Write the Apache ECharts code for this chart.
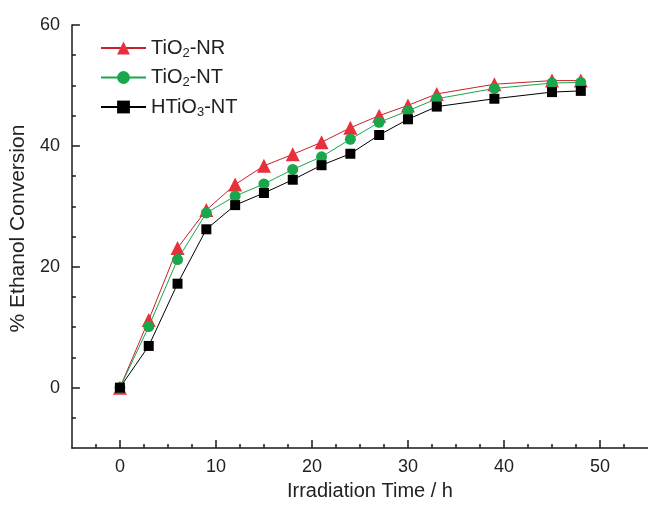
<!DOCTYPE html>
<html>
<head>
<meta charset="utf-8">
<script src="https://cdn.jsdelivr.net/npm/echarts@6/dist/echarts.min.js"></script>
<style>
html,body{margin:0;padding:0;background:#fff;}
#chart{width:648px;height:506px;}
</style>
</head>
<body>
<div id="chart"></div>
<script>
// Data
const hours = [0, 3, 6, 9, 12, 15, 18, 21, 24, 27, 30, 33, 39, 45, 48];
const tio2NR = [0, 11.2, 23.1, 29.4, 33.6, 36.7, 38.6, 40.6, 43.0, 45.0, 46.7, 48.6, 50.2, 50.8, 50.8];
const tio2NT = [0, 10.1, 21.2, 28.9, 31.7, 33.7, 36.1, 38.2, 41.1, 43.9, 45.8, 47.8, 49.5, 50.4, 50.5];
const htio3NT = [0, 6.9, 17.2, 26.2, 30.2, 32.2, 34.4, 36.8, 38.7, 41.8, 44.4, 46.5, 47.8, 48.9, 49.1];

const seriesNames = ['TiO2-NR', 'TiO2-NT', 'HTiO3-NT'];
const legendLabels = {
  'TiO2-NR': '{t|TiO}{s|2}{t|-NR}',
  'TiO2-NT': '{t|TiO}{s|2}{t|-NT}',
  'HTiO3-NT': '{t|HTiO}{s|3}{t|-NT}'
};

// Tick values
const yMajorTicks = [0, 20, 40, 60];
const yMinorTicks = [-5, 5, 10, 15, 25, 30, 35, 45, 50, 55];
const xMajorTicks = [0, 10, 20, 30, 40, 50];
const xMinorTicks = [-2.5, 2.5, 5, 7.5, 12.5, 15, 17.5, 22.5, 25, 27.5, 32.5, 35, 37.5, 42.5, 45, 47.5, 52.5];

const xTitle = 'Irradiation Time / h';
const yTitle = '% Ethanol Conversion';

const FONT = '"Liberation Sans", Arial, sans-serif';
const TXT = '#222';
const AX = '#1a1a1a';

function pairs(ys) { return hours.map((h, i) => [h, ys[i]]); }

const chart = echarts.init(document.getElementById('chart'), null, {renderer: 'canvas'});

const option = {
  animation: false,
  backgroundColor: '#fff',
  textStyle: {fontFamily: FONT},
  grid: {left: 71, top: 25, width: 580, height: 430, containLabel: false},
  legend: {
    orient: 'vertical',
    left: 95,
    top: 33,
    itemWidth: 45,
    itemHeight: 16,
    itemGap: 8,
    data: seriesNames,
    formatter: function (name) { return legendLabels[name]; },
    textStyle: {
      color: TXT,
      fontFamily: FONT,
      rich: {
        t: {fontSize: 20, color: TXT, fontFamily: FONT},
        s: {fontSize: 13, color: TXT, fontFamily: FONT, padding: [10, 0, 0, 0]}
      }
    }
  },
  xAxis: [
    {
      type: 'value', min: -5, max: 55, position: 'bottom',
      name: xTitle, nameLocation: 'middle', nameGap: 32,
      nameTextStyle: {fontSize: 20, color: TXT, fontFamily: FONT, padding: [0, 0, 0, 20]},
      axisLine: {show: true, onZero: false, lineStyle: {color: AX, width: 1.5}},
      axisTick: {show: true, inside: true, length: 8, customValues: xMajorTicks, lineStyle: {color: AX, width: 1.5}},
      axisLabel: {show: true, customValues: xMajorTicks, fontSize: 18, color: TXT, fontFamily: FONT, margin: 10},
      splitLine: {show: false}
    },
    {
      type: 'value', min: -5, max: 55, position: 'bottom',
      axisLine: {show: false, onZero: false},
      axisTick: {show: true, inside: true, length: 4, customValues: xMinorTicks, lineStyle: {color: AX, width: 1.5}},
      axisLabel: {show: false},
      splitLine: {show: false}
    }
  ],
  yAxis: [
    {
      type: 'value', min: -10, max: 60, position: 'left',
      name: yTitle, nameLocation: 'middle', nameGap: 37, nameRotate: 90,
      nameTextStyle: {fontSize: 21, color: TXT, fontFamily: FONT, padding: [0, 0, 0, 16]},
      axisLine: {show: true, onZero: false, lineStyle: {color: AX, width: 1.5}},
      axisTick: {show: true, inside: true, length: 8, customValues: yMajorTicks, lineStyle: {color: AX, width: 1.5}},
      axisLabel: {show: true, customValues: yMajorTicks, fontSize: 18, color: TXT, fontFamily: FONT, margin: 12},
      splitLine: {show: false}
    },
    {
      type: 'value', min: -10, max: 60, position: 'left',
      axisLine: {show: false, onZero: false},
      axisTick: {show: true, inside: true, length: 4, customValues: yMinorTicks, lineStyle: {color: AX, width: 1.5}},
      axisLabel: {show: false},
      splitLine: {show: false}
    }
  ],
  series: [
    {
      name: 'TiO2-NR', type: 'line', data: pairs(tio2NR),
      symbol: 'triangle', symbolSize: 14,
      itemStyle: {color: '#e8303c'},
      lineStyle: {color: '#c8202c', width: 1},
      z: 2
    },
    {
      name: 'TiO2-NT', type: 'line', data: pairs(tio2NT),
      symbol: 'circle', symbolSize: 11,
      itemStyle: {color: '#1aa64a'},
      lineStyle: {color: '#1aa64a', width: 1},
      z: 3
    },
    {
      name: 'HTiO3-NT', type: 'line', data: pairs(htio3NT),
      symbol: 'rect', symbolSize: 10,
      itemStyle: {color: '#000'},
      lineStyle: {color: '#000', width: 1},
      z: 4
    }
  ]
};

chart.setOption(option);
</script>
</body>
</html>
